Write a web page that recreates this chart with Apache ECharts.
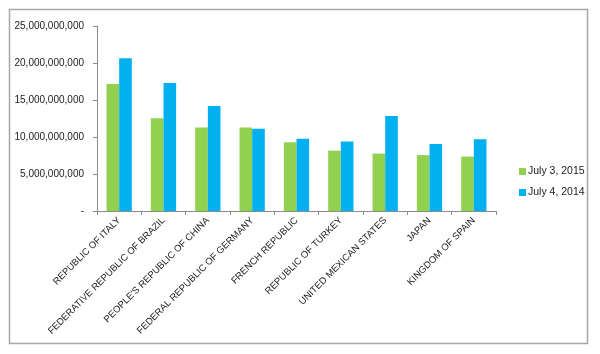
<!DOCTYPE html>
<html>
<head>
<meta charset="utf-8">
<script src="https://cdn.jsdelivr.net/npm/echarts@6/dist/echarts.min.js"></script>
<style>
  html, body { margin: 0; padding: 0; background: #fff; }
  #chart { width: 600px; height: 354px; }
</style>
</head>
<body>
<div id="chart"></div>
<script>
  var countries = ['REPUBLIC OF ITALY', 'FEDERATIVE REPUBLIC OF BRAZIL', "PEOPLE'S REPUBLIC OF CHINA",
    'FEDERAL REPUBLIC OF GERMANY', 'FRENCH REPUBLIC', 'REPUBLIC OF TURKEY',
    'UNITED MEXICAN STATES', 'JAPAN', 'KINGDOM OF SPAIN']
  var seriesNames = ['July 3, 2015', 'July 4, 2014']
  var july2015 = [17.15e9, 12.55e9, 11.3e9, 11.3e9, 9.3e9, 8.15e9, 7.75e9, 7.55e9, 7.35e9]
  var july2014 = [20.65e9, 17.3e9, 14.2e9, 11.1e9, 9.75e9, 9.4e9, 12.85e9, 9.05e9, 9.7e9]

  var chart = echarts.init(document.getElementById('chart'))

  // zero is shown as a dash, like Excel's accounting format
  function fmt(v) {
    if (v === 0) return '-'
    return String(v).replace(/\B(?=(\d{3})+(?!\d))/g, ',')
  }

  chart.setOption({
    animation: false,
    backgroundColor: '#fff',
    textStyle: { fontFamily: '"Liberation Sans", Arial, sans-serif' },
    graphic: [{
      type: 'rect',
      shape: { x: 9.5, y: 9.5, width: 578, height: 334 },
      style: { fill: 'none', stroke: '#a6a6a6', lineWidth: 1.5 },
      silent: true
    }],
    legend: {
      orient: 'vertical',
      left: 514,
      top: 161,
      itemWidth: 7,
      itemHeight: 7,
      itemGap: 10,
      icon: 'rect',
      data: seriesNames,
      textStyle: { fontSize: 10.5, color: '#222', padding: [0, 0, 0, -3] }
    },
    grid: {
      left: 97,
      right: 104,
      top: 26,
      bottom: 143
    },
    xAxis: {
      type: 'category',
      data: countries,
      axisLine: { lineStyle: { color: '#8c8c8c' } },
      axisTick: { show: true, alignWithLabel: false, length: 4, lineStyle: { color: '#8c8c8c' } },
      axisLabel: { rotate: 45, fontSize: 9.5, color: '#222', margin: 8, interval: 0 }
    },
    yAxis: {
      type: 'value',
      min: 0,
      max: 25e9,
      interval: 5e9,
      axisLine: { show: true, lineStyle: { color: '#8c8c8c' } },
      axisTick: { show: true, length: 4, lineStyle: { color: '#8c8c8c' } },
      splitLine: { show: false },
      axisLabel: { fontSize: 10, color: '#222', margin: 13, formatter: fmt }
    },
    series: [
      {
        name: seriesNames[0],
        type: 'bar',
        data: july2015,
        barGap: '0%',
        barCategoryGap: '43%',
        itemStyle: { color: '#92d050' }
      },
      {
        name: seriesNames[1],
        type: 'bar',
        data: july2014,
        itemStyle: { color: '#00b0f0' }
      }
    ]
  })
</script>
</body>
</html>
